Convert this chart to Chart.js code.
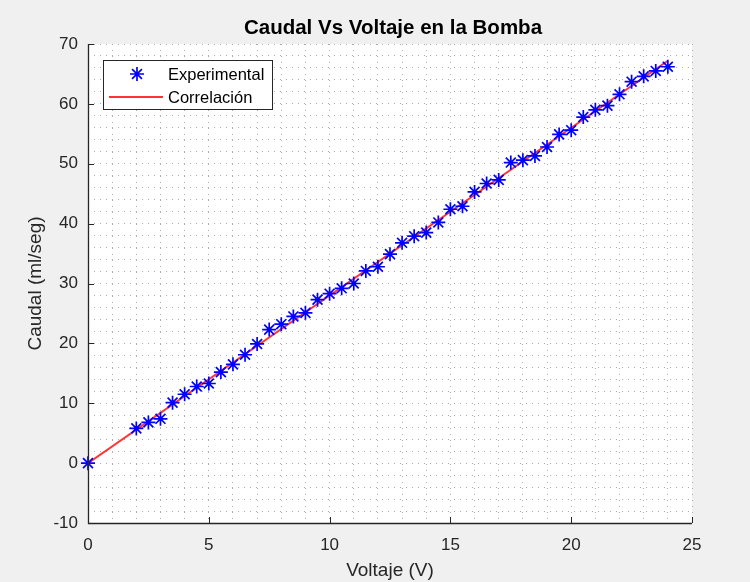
<!DOCTYPE html>
<html>
<head>
<meta charset="utf-8">
<title>Caudal Vs Voltaje en la Bomba</title>
<script src="https://cdn.jsdelivr.net/npm/chart.js@4/dist/chart.umd.min.js"></script>
<style>
  html, body { margin: 0; padding: 0; background: #f0f0f0; }
  #wrap { width: 750px; height: 582px; }
</style>
</head>
<body>
<div id="wrap"><canvas id="grafico" width="750" height="582"></canvas></div>
<script>
// Mediciones de la bomba: voltaje aplicado (V) y caudal medido (ml/seg)
const voltaje = [0, 2, 2.5, 3, 3.5, 4, 4.5, 5, 5.5, 6, 6.5, 7, 7.5, 8, 8.5, 9, 9.5, 10,
  10.5, 11, 11.5, 12, 12.5, 13, 13.5, 14, 14.5, 15, 15.5, 16, 16.5, 17, 17.5, 18,
  18.5, 19, 19.5, 20, 20.5, 21, 21.5, 22, 22.5, 23, 23.5, 24];
const caudal = [0, 5.8, 6.8, 7.4, 10.1, 11.5, 12.8, 13.3, 15.2, 16.5, 18.1, 19.9, 22.3,
  23.2, 24.5, 25.1, 27.3, 28.3, 29.2, 30.0, 32.1, 32.8, 34.9, 36.8, 37.9, 38.5, 40.2,
  42.4, 42.9, 45.3, 46.7, 47.3, 50.2, 50.6, 51.3, 52.8, 54.9, 55.6, 57.8, 59.0, 59.7,
  61.6, 63.7, 64.6, 65.5, 66.2];

// Recta de correlación (extremos)
const ajusteX = [0, 24];
const ajusteY = [0, 67.2];

// Marcas principales de los ejes
const xTicks = [0, 5, 10, 15, 20, 25];
const yTicks = [-10, 0, 10, 20, 30, 40, 50, 60, 70];

const FUENTE = "'Liberation Sans', Arial, Helvetica, sans-serif";
const GRIS_EJE = '#262626';
const GRILLA = '#adadad';

const puntosExp = voltaje.map((v, i) => ({ x: v, y: caudal[i] }));
const puntosAjuste = ajusteX.map((v, i) => ({ x: v, y: ajusteY[i] }));

// Fondo de la figura y área blanca de los ejes
const fondo = {
  id: 'fondo',
  beforeDraw(chart) {
    const { ctx, chartArea: a } = chart;
    ctx.save();
    ctx.fillStyle = '#f0f0f0';
    ctx.fillRect(0, 0, chart.width, chart.height);
    ctx.fillStyle = '#ffffff';
    ctx.fillRect(a.left, a.top, a.right - a.left, a.bottom - a.top);
    ctx.restore();
  }
};

// Ejes sólidos con marcas hacia dentro, título centrado sobre los ejes y leyenda con recuadro
const decoracion = {
  id: 'decoracion',
  afterDraw(chart) {
    const { ctx, chartArea: a, scales } = chart;
    ctx.save();
    ctx.setLineDash([]);
    ctx.strokeStyle = GRIS_EJE;
    ctx.lineWidth = 1.3;
    ctx.beginPath();
    ctx.moveTo(a.left + 0.5, a.top);
    ctx.lineTo(a.left + 0.5, a.bottom + 0.5);
    ctx.lineTo(a.right, a.bottom + 0.5);
    ctx.stroke();

    ctx.lineWidth = 1;
    ctx.beginPath();
    xTicks.forEach(v => {
      const px = Math.round(scales.x.getPixelForValue(v)) + 0.5;
      ctx.moveTo(px, a.bottom);
      ctx.lineTo(px, a.bottom - 6);
    });
    yTicks.forEach(v => {
      const py = Math.round(scales.y.getPixelForValue(v)) + 0.5;
      ctx.moveTo(a.left, py);
      ctx.lineTo(a.left + 6, py);
    });
    ctx.stroke();

    // título
    ctx.fillStyle = '#000000';
    ctx.font = 'bold 20.5px ' + FUENTE;
    ctx.textAlign = 'center';
    ctx.textBaseline = 'middle';
    ctx.fillText('Caudal Vs Voltaje en la Bomba', (a.left + a.right) / 2 + 3, 28);

    // leyenda
    const bx = a.left + 15, by = a.top + 16, bw = 169, bh = 49;
    ctx.fillStyle = '#ffffff';
    ctx.fillRect(bx, by, bw, bh);
    ctx.strokeStyle = GRIS_EJE;
    ctx.lineWidth = 1;
    ctx.strokeRect(bx + 0.5, by + 0.5, bw, bh);

    const dsExp = chart.data.datasets[0];
    const dsAj = chart.data.datasets[1];
    const y1 = by + 14, y2 = by + 37;
    const estrella = { pointStyle: 'star', radius: dsExp.pointRadius, rotation: 0, borderWidth: dsExp.pointBorderWidth };
    ctx.strokeStyle = dsExp.pointBorderColor;
    ctx.fillStyle = dsExp.pointBackgroundColor;
    ctx.lineWidth = dsExp.pointBorderWidth;
    Chart.helpers.drawPoint(ctx, estrella, bx + 34, y1);

    ctx.strokeStyle = dsAj.borderColor;
    ctx.lineWidth = dsAj.borderWidth;
    ctx.beginPath();
    ctx.moveTo(bx + 6, y2);
    ctx.lineTo(bx + 60, y2);
    ctx.stroke();

    ctx.fillStyle = '#000000';
    ctx.font = '16.5px ' + FUENTE;
    ctx.textAlign = 'left';
    ctx.fillText(dsExp.label, bx + 65, y1 + 1);
    ctx.fillText(dsAj.label, bx + 65, y2 + 1);
    ctx.restore();
  }
};

new Chart(document.getElementById('grafico'), {
  type: 'scatter',
  data: {
    datasets: [
      {
        label: 'Experimental',
        data: puntosExp,
        showLine: false,
        pointStyle: 'star',
        pointRadius: 7,
        pointBorderWidth: 1.7,
        pointBorderColor: '#0000ff',
        pointBackgroundColor: '#0000ff',
        clip: false,
        order: 0
      },
      {
        label: 'Correlación',
        data: puntosAjuste,
        showLine: true,
        borderColor: '#ff3333',
        borderWidth: 2,
        pointRadius: 0,
        fill: false,
        order: 1
      }
    ]
  },
  options: {
    responsive: false,
    animation: false,
    devicePixelRatio: 1,
    layout: { padding: { left: 0, right: 58, top: 44, bottom: 0 } },
    plugins: {
      legend: { display: false },
      title: { display: false },
      tooltip: { enabled: false }
    },
    scales: {
      x: {
        type: 'linear',
        min: 0,
        max: 25,
        afterFit: s => { s.height = 59; },
        ticks: {
          stepSize: 1,
          autoSkip: false,
          maxRotation: 0,
          padding: 12,
          color: GRIS_EJE,
          font: { family: FUENTE, size: 17 },
          callback: v => (xTicks.includes(v) ? String(v) : '')
        },
        grid: { color: GRILLA, lineWidth: 1, drawTicks: false },
        border: { display: false, dash: [1, 5] },
        title: {
          display: true,
          text: 'Voltaje (V)',
          color: GRIS_EJE,
          font: { family: FUENTE, size: 19 },
          padding: { top: 0, bottom: 0 }
        }
      },
      y: {
        type: 'linear',
        min: -10,
        max: 70,
        afterFit: s => { s.width = 88; },
        ticks: {
          stepSize: 2,
          autoSkip: false,
          padding: 10,
          color: GRIS_EJE,
          font: { family: FUENTE, size: 17 },
          callback: v => (yTicks.includes(v) ? String(v) : '')
        },
        grid: { color: GRILLA, lineWidth: 1, drawTicks: false },
        border: { display: false, dash: [1, 5] },
        title: {
          display: true,
          text: 'Caudal (ml/seg)',
          color: GRIS_EJE,
          font: { family: FUENTE, size: 19 },
          padding: { top: 24, bottom: 0 }
        }
      }
    }
  },
  plugins: [fondo, decoracion]
});
</script>
</body>
</html>
